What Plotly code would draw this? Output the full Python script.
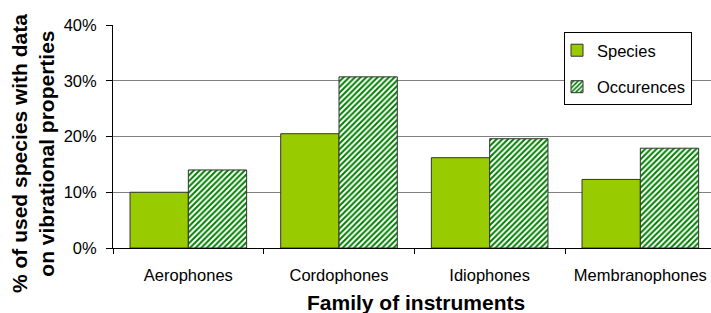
import plotly.graph_objects as go

categories = ["Aerophones", "Cordophones", "Idiophones", "Membranophones"]
species = [10.0, 20.5, 16.2, 12.3]
occurences = [14.0, 30.7, 19.6, 17.9]
y_ticks = [0, 10, 20, 30, 40]
y_tick_labels = ["0%", "10%", "20%", "30%", "40%"]

FONT = "Liberation Sans, Arial, sans-serif"
TICK_SIZE = 16.5

fig = go.Figure()
fig.add_trace(go.Bar(
    x=categories, y=species, name="Species", legendgroup="a",
    marker=dict(color="#99CC00", line=dict(color="#333333", width=1)),
))
fig.add_trace(go.Bar(
    x=categories, y=occurences, name="Occurences", legendgroup="b",
    marker=dict(color="white", line=dict(color="#333333", width=1),
                pattern=dict(shape="/", fgcolor="#008000", bgcolor="white",
                             size=4, solidity=0.5, fillmode="replace")),
))

L, T, B = 113, 25, 65
W, H = 711, 313
pw, ph = W - L, H - T - B

fig.update_layout(
    width=W, height=H,
    margin=dict(l=L, r=0, t=T, b=B, pad=0),
    paper_bgcolor="white", plot_bgcolor="white",
    barmode="group", bargap=0.226, bargroupgap=0,
    font=dict(family=FONT, size=TICK_SIZE, color="black"),
    showlegend=True,
    legend=dict(
        x=(564 - L) / pw, y=(H - B - 32) / ph, xanchor="left", yanchor="top",
        bgcolor="white", bordercolor="black", borderwidth=1,
        font=dict(size=TICK_SIZE, family=FONT, color="black"),
        tracegroupgap=12, traceorder="grouped", indentation=-8,
    ),
    xaxis=dict(
        range=[-0.5, 3.469], showgrid=False,
        showline=True, linecolor="black", linewidth=1,
        ticks="outside", tickson="boundaries", ticklen=5, tickcolor="black",
        tickfont=dict(size=TICK_SIZE, family=FONT, color="black"),
        ticklabelstandoff=12,
        fixedrange=True,
    ),
    yaxis=dict(
        range=[0, 40], tickvals=y_ticks, ticktext=y_tick_labels,
        showgrid=True, gridcolor="#808080", gridwidth=1,
        showline=True, linecolor="black", linewidth=1,
        ticks="outside", ticklen=6, tickcolor="black",
        tickfont=dict(size=TICK_SIZE, family=FONT, color="black"),
        ticklabelstandoff=6,
        zeroline=False,
    ),
)

fig.add_annotation(
    text="% of used species with data<br>on vibrational properties",
    xref="paper", yref="paper",
    x=(32.5 - L) / pw, y=(H - B - 153.5) / ph,
    xanchor="center", yanchor="middle", textangle=-90, showarrow=False,
    font=dict(size=21, family=FONT, color="black", weight="bold"),
)
fig.add_annotation(
    text="Family of instruments",
    xref="paper", yref="paper",
    x=(416 - L) / pw, y=(H - B - 302) / ph,
    xanchor="center", yanchor="middle", showarrow=False,
    font=dict(size=21, family=FONT, color="black", weight="bold"),
)

fig.write_html(
    "out.html",
    config={"displayModeBar": False},
    post_script="document.body.style.margin='0';document.body.style.overflow='hidden';",
)
